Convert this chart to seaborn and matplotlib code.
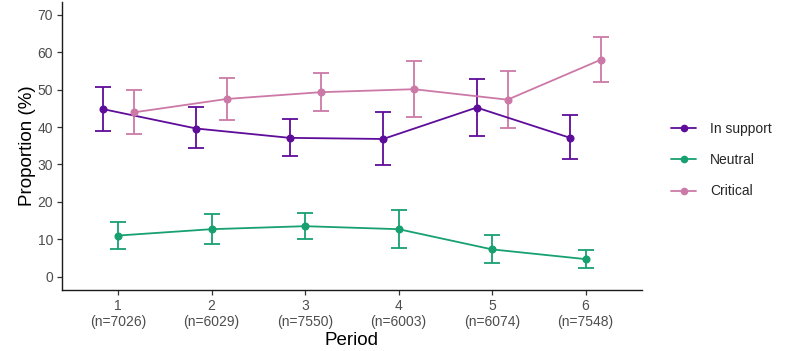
import matplotlib
matplotlib.use("Agg")
import matplotlib.pyplot as plt
import seaborn as sns
import pandas as pd
import numpy as np
from matplotlib.lines import Line2D

periods = [1, 2, 3, 4, 5, 6]
n_sizes = [7026, 6029, 7550, 6003, 6074, 7548]
stances = ["In support", "Neutral", "Critical"]

support = [44.8, 39.6, 37.1, 36.8, 45.2, 37.1]
support_lo = [39.0, 34.4, 32.2, 29.9, 37.6, 31.4]
support_hi = [50.8, 45.3, 42.2, 44.0, 52.7, 43.1]

neutral = [11.0, 12.7, 13.5, 12.7, 7.3, 4.7]
neutral_lo = [7.3, 8.7, 10.0, 7.6, 3.6, 2.2]
neutral_hi = [14.7, 16.8, 17.1, 17.9, 11.2, 7.2]

critical = [43.9, 47.5, 49.3, 50.1, 47.3, 58.0]
critical_lo = [38.1, 41.9, 44.2, 42.7, 39.7, 52.0]
critical_hi = [49.9, 53.1, 54.5, 57.7, 55.0, 64.0]

colors = {"In support": "#5E0C9A", "Neutral": "#17A070", "Critical": "#CC79A7"}
offsets = {"In support": -0.165, "Neutral": 0.0, "Critical": 0.165}

series = {
    "In support": (support, support_lo, support_hi),
    "Neutral": (neutral, neutral_lo, neutral_hi),
    "Critical": (critical, critical_lo, critical_hi),
}

rows = []
for s in stances:
    vals, lo, hi = series[s]
    for p, v, l, h in zip(periods, vals, lo, hi):
        rows.append({"period": p, "x": p + offsets[s], "value": v, "lo": l, "hi": h, "stance": s})
df = pd.DataFrame(rows)

sns.set_style("white")
plt.rcParams["font.family"] = ["Liberation Sans", "DejaVu Sans"]

fig = plt.figure(figsize=(8, 3.51), dpi=100)
ax = fig.add_axes([62 / 800, 61 / 351, (641.7 - 62) / 800, (290 - 2) / 351])

sns.lineplot(data=df, x="x", y="value", hue="stance", hue_order=stances,
             palette=colors, marker="o", markersize=5.8, markeredgewidth=0,
             linewidth=1.3, ax=ax, legend=False, sort=True, estimator=None)

for s in stances:
    d = df[df["stance"] == s]
    ax.errorbar(d["x"], d["value"],
                yerr=[d["value"] - d["lo"], d["hi"] - d["value"]],
                fmt="none", ecolor=colors[s], elinewidth=1.3,
                capsize=5.5, capthick=1.3, zorder=1)

ax.set_xlim(0.4, 6.6)
ax.set_ylim(-3.55, 73.4)
ax.set_yticks(np.arange(0, 71, 10))
ax.set_xticks(periods)
ax.set_xticklabels([f"{p}\n(n={n})" for p, n in zip(periods, n_sizes)],
                   linespacing=1.2)
ax.tick_params(axis="both", bottom=True, left=True, labelcolor="#4D4D4D",
               labelsize=10, length=3.5, width=0.9, direction="out",
               color="#333333")
ax.tick_params(axis="x", pad=3)
ax.tick_params(axis="y", pad=3)

for side in ["top", "right"]:
    ax.spines[side].set_visible(False)
for side in ["left", "bottom"]:
    ax.spines[side].set_color("#1A1A1A")
    ax.spines[side].set_linewidth(1.0)

ax.set_xlabel("Period", fontsize=13.5, color="black", labelpad=2)
ax.set_ylabel("Proportion (%)", fontsize=13.5, color="black", labelpad=1)

handles = [Line2D([0], [0], color=colors[s], marker="o", markersize=5.5,
                  markeredgewidth=0, linewidth=1.3) for s in stances]
fig.legend(handles, stances, loc="center left",
           bbox_to_anchor=(671 / 800, (351 - 160) / 351),
           frameon=False, fontsize=10, handlelength=1.8, handletextpad=1.0,
           labelspacing=1.25, borderpad=0, borderaxespad=0)

fig.savefig("out.png", dpi=100)
